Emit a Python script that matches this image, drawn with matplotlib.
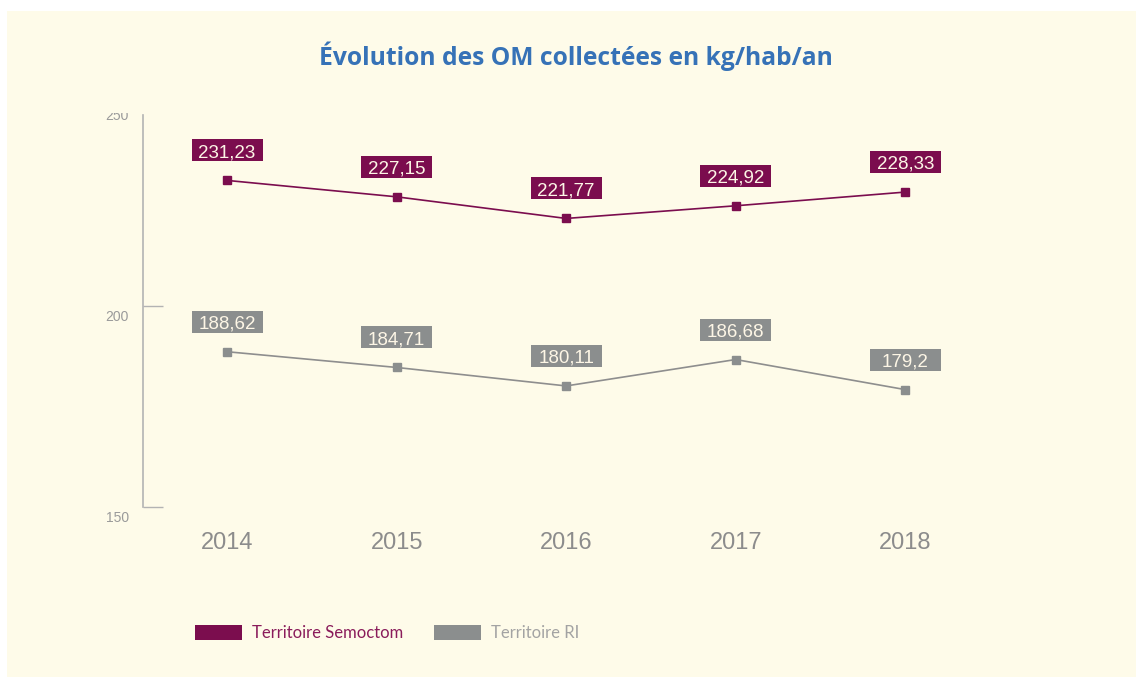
import matplotlib
matplotlib.use('Agg')
import matplotlib.pyplot as plt
from matplotlib.patches import Rectangle, Patch
from matplotlib import transforms

# ---- data ----
years = [2014, 2015, 2016, 2017, 2018]
year_labels = ['2014', '2015', '2016', '2017', '2018']
semoctom = [231.23, 227.15, 221.77, 224.92, 228.33]
ri = [188.62, 184.71, 180.11, 186.68, 179.2]
semoctom_labels = ['231,23', '227,15', '221,77', '224,92', '228,33']
ri_labels = ['188,62', '184,71', '180,11', '186,68', '179,2']
series_names = ['Territoire Semoctom', 'Territoire RI']
yticks = [150, 200, 250]
ytick_labels = ['150', '200', '250']
title = 'Évolution des OM collectées en kg/hab/an'

# ---- style ----
W, H = 1136, 677
CREAM = '#fefbe9'
MAROON = '#7b0d4e'
GRAY_BOX = '#8b8e8e'
GRAY_LINE = '#8e8e8e'
AXIS = '#b3b3b3'
NUM_FONT = 'Liberation Sans'

fig = plt.figure(figsize=(W / 100, H / 100), dpi=100, facecolor='white')
bg = Rectangle((7 / W, 0), 1, (H - 11) / H, transform=fig.transFigure,
               facecolor=CREAM, edgecolor='none', zorder=-10)
fig.add_artist(bg)

ax = fig.add_axes([143 / W, 170 / H, (990 - 143) / W, 392 / H])
ax.set_facecolor('none')
ax.set_xlim(2013.504, 2018.5)
ax.set_ylim(150, 247.5)
for s in ['top', 'right', 'bottom']:
    ax.spines[s].set_visible(False)
ax.spines['left'].set_color(AXIS)
ax.spines['left'].set_linewidth(1.2)

ax.set_yticks([t for t in yticks if t <= 247.5])
ax.tick_params(axis='y', direction='in', length=14.4, width=1.0, color=AXIS,
               labelleft=False)
ax.set_xticks(years)
ax.set_xticklabels(year_labels, fontsize=17, color='#8c8c8c', family=NUM_FONT)
ax.tick_params(axis='x', length=0, pad=18)

# y tick labels (the top one is cut by the image edge)
ytrans = transforms.offset_copy(
    transforms.blended_transform_factory(ax.transAxes, ax.transData),
    fig=fig, x=-14, y=-15, units='dots')
clipbox = transforms.TransformedBbox(
    transforms.Bbox([[0, 0], [1, (H - 113) / H]]), fig.transFigure)
for v, lab in zip(yticks, ytick_labels):
    t = ax.text(0, v, lab, transform=ytrans, ha='right', va='baseline',
                fontsize=10, color='#9a9a9a', family=NUM_FONT)
    t.set_clip_on(True)
    t.set_clip_box(clipbox)

# lines
ax.plot(years, semoctom, color=MAROON, lw=1.2, marker='s', ms=6,
        zorder=3, clip_on=False)
ax.plot(years, ri, color=GRAY_LINE, lw=1.2, marker='s', ms=6,
        mfc=GRAY_BOX, mec=GRAY_BOX, zorder=3, clip_on=False)

# value labels in fixed-size boxes
BOX_W, BOX_H, OFF = 71, 22, 30
def label(x, y, txt, fc):
    tr = fig.dpi_scale_trans + transforms.ScaledTranslation(x, y, ax.transData)
    r = Rectangle((-BOX_W / 200, (OFF - BOX_H / 2) / 100), BOX_W / 100, BOX_H / 100,
                  transform=tr, facecolor=fc, edgecolor='none', clip_on=False,
                  zorder=4)
    ax.add_artist(r)
    ax.text(0, (OFF - 6.9) / 100, txt, transform=tr, ha='center', va='baseline',
            fontsize=13.5, color='#fdf6e6', family=NUM_FONT, zorder=5,
            clip_on=False)

for x, y, t in zip(years, semoctom, semoctom_labels):
    label(x, y, t, MAROON)
for x, y, t in zip(years, ri, ri_labels):
    label(x, y, t, GRAY_BOX)

# title
fig.text(576 / W, 1 - 56 / H, title, ha='center', va='center', fontsize=17.7,
         fontweight='bold', color='#3672b7', family='Open Sans')

# legend
handles = [Patch(facecolor=MAROON, edgecolor='none'),
           Patch(facecolor=GRAY_BOX, edgecolor='none')]
fs = 12
fpx = fs * 100 / 72
fig.legend(handles=handles, labels=series_names, ncol=2, loc='center left',
           bbox_to_anchor=(195 / W, 1 - 633 / H), frameon=False,
           handlelength=47 / fpx, handleheight=16 / fpx,
           handletextpad=10 / fpx, columnspacing=31 / fpx,
           borderaxespad=0, borderpad=0,
           prop={'family': 'Lato', 'size': fs},
           labelcolor=['#8a1c5b', '#a3a3a3'])

fig.savefig('out.png', dpi=100, facecolor='white')
